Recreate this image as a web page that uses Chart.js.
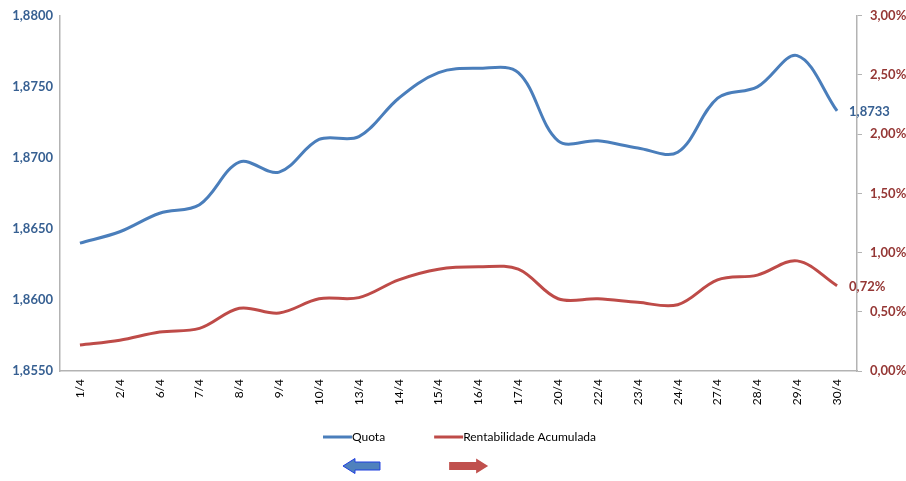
<!DOCTYPE html>
<html>
<head>
<meta charset="utf-8">
<script src="https://cdn.jsdelivr.net/npm/chart.js@4/dist/chart.umd.min.js"></script>
<style>
    html, body { margin: 0; padding: 0; background: #fff; }
    #wrap { width: 906px; height: 481px; position: relative; }
</style>
</head>
<body>
<div id="wrap"><canvas id="quotaChart"></canvas></div>
<script>
// ==================== DATA ====================

const labels = ['1/4', '2/4', '6/4', '7/4', '8/4', '9/4', '10/4', '13/4', '14/4', '15/4',
    '16/4', '17/4', '20/4', '22/4', '23/4', '24/4', '27/4', '28/4', '29/4', '30/4'];

const quotaValues = [1.8640, 1.8648, 1.8661, 1.8667, 1.8697, 1.8690, 1.8713, 1.8715, 1.8742, 1.8760,
    1.8763, 1.8760, 1.8712, 1.8712, 1.8707, 1.8704, 1.8742, 1.8750, 1.8772, 1.8733];

// percent
const rentabilidadeValues = [0.22, 0.26, 0.33, 0.36, 0.53, 0.49, 0.61, 0.62, 0.77, 0.86,
    0.88, 0.86, 0.61, 0.61, 0.58, 0.56, 0.77, 0.81, 0.93, 0.72];

const leftTicks = { min: 1.855, max: 1.88, step: 0.005 };
const rightTicks = { min: 0, max: 3, step: 0.5 };

const BLUE = '#4A7EBB';
const RED = '#BE4B48';
const FONT = 'Lato, "Open Sans", sans-serif';

const fmtComma = (v, d) => v.toFixed(d).replace('.', ',');

// ==================== PLUGINS ====================

// value label next to the last point of each series
const endLabels = {
    id: 'endLabels',
    afterDatasetsDraw(chart) {
        const ctx = chart.ctx;
        ctx.save();
        ctx.font = 'bold 13px ' + FONT;
        ctx.textAlign = 'left';
        ctx.textBaseline = 'middle';
        chart.data.datasets.forEach((ds, i) => {
            const meta = chart.getDatasetMeta(i);
            const pt = meta.data[meta.data.length - 1];
            const v = ds.data[ds.data.length - 1];
            ctx.fillStyle = ds.labelColor;
            const txt = i === 0 ? fmtComma(v, 4) : fmtComma(v, 2) + '%';
            ctx.fillText(txt, pt.x + 12, pt.y + 1);
        });
        ctx.restore();
    }
};

// legend row plus the axis arrows under it
const legendArrows = {
    id: 'legendArrows',
    afterDraw(chart) {
        const ctx = chart.ctx;
        const area = chart.chartArea;
        ctx.save();
        ctx.font = '12px ' + FONT;
        ctx.textBaseline = 'middle';
        const lineLen = 29;
        const gap = 49;
        const items = chart.data.datasets.map(ds => ({
            text: ds.label,
            color: ds.borderColor,
            w: lineLen + ctx.measureText(ds.label).width
        }));
        const total = items.reduce((s, it) => s + it.w, 0) + gap * (items.length - 1);
        let x = (area.left + area.right) / 2 + 1 - total / 2;
        const y = 437;
        const starts = [];
        items.forEach(it => {
            starts.push(x);
            ctx.strokeStyle = it.color;
            ctx.lineWidth = 3;
            ctx.beginPath();
            ctx.moveTo(x, y);
            ctx.lineTo(x + lineLen, y);
            ctx.stroke();
            ctx.fillStyle = '#000';
            ctx.fillText(it.text, x + lineLen, y);
            x += it.w + gap;
        });

        // arrows: left one for Quota axis, right one for Rentabilidade axis
        const ay = 466;
        const drawArrow = (x0, x1, dir, fill, stroke) => {
            const head = 12, half = 7.5, shaft = 4;
            ctx.beginPath();
            if (dir < 0) {
                ctx.moveTo(x0, ay);
                ctx.lineTo(x0 + head, ay - half);
                ctx.lineTo(x0 + head, ay - shaft);
                ctx.lineTo(x1, ay - shaft);
                ctx.lineTo(x1, ay + shaft);
                ctx.lineTo(x0 + head, ay + shaft);
                ctx.lineTo(x0 + head, ay + half);
            } else {
                ctx.moveTo(x1, ay);
                ctx.lineTo(x1 - head, ay - half);
                ctx.lineTo(x1 - head, ay - shaft);
                ctx.lineTo(x0, ay - shaft);
                ctx.lineTo(x0, ay + shaft);
                ctx.lineTo(x1 - head, ay + shaft);
                ctx.lineTo(x1 - head, ay + half);
            }
            ctx.closePath();
            ctx.fillStyle = fill;
            ctx.fill();
            if (stroke) {
                ctx.strokeStyle = stroke;
                ctx.lineWidth = 1;
                ctx.stroke();
            }
        };
        drawArrow(starts[0] + 20, starts[0] + 57, -1, '#4F81BD', '#1F3FE0');
        drawArrow(starts[1] + 15, starts[1] + 54, 1, '#C0504D', null);
        ctx.restore();
    }
};

// ==================== CHART ====================

const ctx = document.getElementById('quotaChart');

new Chart(ctx, {
    type: 'line',
    data: {
        labels: labels,
        datasets: [{
            label: 'Quota',
            data: quotaValues,
            yAxisID: 'y',
            borderColor: BLUE,
            labelColor: '#376092',
            borderWidth: 3,
            pointRadius: 0,
            tension: 0.35,
            fill: false
        }, {
            label: 'Rentabilidade Acumulada',
            data: rentabilidadeValues,
            yAxisID: 'y1',
            borderColor: RED,
            labelColor: '#953735',
            borderWidth: 3,
            pointRadius: 0,
            tension: 0.35,
            fill: false
        }]
    },
    options: {
        responsive: true,
        maintainAspectRatio: false,
        animation: false,
        layout: { padding: { top: 15, left: 0, right: 0, bottom: 0 } },
        plugins: {
            legend: { display: false },
            tooltip: { enabled: false }
        },
        scales: {
            x: {
                offset: true,
                grid: { display: false, drawTicks: false },
                border: { color: '#B3B3B3', width: 1.5 },
                ticks: {
                    minRotation: 90,
                    maxRotation: 90,
                    autoSkip: false,
                    padding: 8,
                    color: '#000',
                    font: { family: FONT, size: 12 }
                },
                afterFit(scale) { scale.height = 110; }
            },
            y: {
                position: 'left',
                min: leftTicks.min,
                max: leftTicks.max,
                grid: { display: false, drawTicks: false },
                border: { color: '#B3B3B3', width: 1.5 },
                ticks: {
                    stepSize: leftTicks.step,
                    padding: 7,
                    color: '#376092',
                    font: { family: FONT, size: 13, weight: 'bold' },
                    callback: v => fmtComma(v, 4)
                },
                afterFit(scale) { scale.width = 60; }
            },
            y1: {
                position: 'right',
                min: rightTicks.min,
                max: rightTicks.max,
                grid: { display: true, drawOnChartArea: false, drawTicks: true, tickLength: 5, color: '#B3B3B3' },
                border: { color: '#B3B3B3', width: 1.5 },
                ticks: {
                    stepSize: rightTicks.step,
                    padding: 8,
                    color: '#953735',
                    font: { family: FONT, size: 13, weight: 'bold' },
                    callback: v => fmtComma(v, 2) + '%'
                },
                afterFit(scale) { scale.width = 49; }
            }
        }
    },
    plugins: [endLabels, legendArrows]
});
</script>
</body>
</html>
